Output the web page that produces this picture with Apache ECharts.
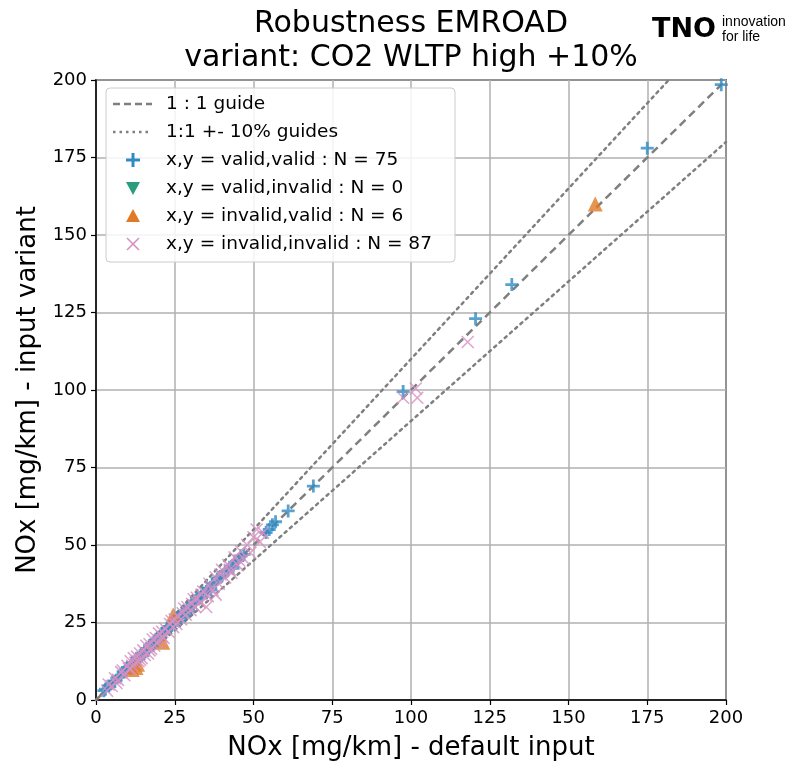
<!DOCTYPE html>
<html><head><meta charset="utf-8">
<script src="https://cdn.jsdelivr.net/npm/echarts@6/dist/echarts.min.js"></script>
<style>html,body{margin:0;padding:0;background:#fff}#c{width:792px;height:772px}</style>
</head><body><div id="c"></div>
<script>
const titleLines = ['Robustness EMROAD', 'variant: CO2 WLTP high +10%'];
const xName = 'NOx [mg/km] - default input';
const yName = 'NOx [mg/km] - input variant';
const axisMin = 0, axisMax = 200, axisStep = 25;
const guideLine = [[0,0],[200,200]];
const guideUpper = [[0,0],[181.82,200]];
const guideLower = [[0,0],[200,180]];
const legendLabels = ['1 : 1 guide','1:1 +- 10% guides','x,y = valid,valid : N = 75','x,y = valid,invalid : N = 0','x,y = invalid,valid : N = 6','x,y = invalid,invalid : N = 87'];
const validValid = [[2.5,3],[3,3.5],[4,4.5],[5,5.5],[6,6],[7,7.5],[8,8],[9,9],[9.5,10],[10,10.5],[11,11],[11.5,12],[12,12],[13,13.5],[14,14],[14.5,15],[15,15],[16,16.5],[16.5,16],[17,17.5],[18,18],[18.5,19],[19,19.5],[20,20],[21,21.5],[22,22],[22.5,23],[23,23.5],[24,24],[25,25],[25.5,26],[26,26.5],[27,27],[28,28.5],[28.5,28],[29,29.5],[30,30],[31,31],[31.5,32],[32,32.5],[33,33],[34,34.5],[35,35],[35.5,36],[36,36],[37,37.5],[38,38],[38.5,39],[39,39.5],[40,40],[41,41.5],[42,42],[43,43],[44,44.5],[45,45],[46,46.5],[47,47],[54,54],[55,55],[56,56.5],[57,57.5],[61,61],[69,69],[97.5,99.5],[120.5,123],[132,134],[175,178],[198.5,198.5],[26.5,25.5],[33.5,33],[36.5,35.5],[43.5,42.5],[29.5,28.5],[19.5,19],[13.5,13]];
const validInvalid = [];
const invalidValid = [[158.5,160],[11.5,9.8],[12.7,10.5],[21.2,18.6],[24.5,27.4],[13.2,11.5]];
const invalidInvalid = [[4,5],[5,4.5],[6,7],[7,6.5],[8,9],[9,8],[10,11],[10.5,10],[11,12.5],[11.5,11],[12,13.5],[12.5,12],[13,14],[13.5,12.5],[14,15],[14.5,13.5],[15,16],[15.5,14.5],[16,17.5],[16.5,15],[17,18],[17.5,16.5],[18,19.5],[18.5,17.5],[19,20],[19.5,18.5],[20,21.5],[20.5,19.5],[21,22],[21.5,20],[22,23],[23,22],[24,25.5],[24.5,23.5],[25,26],[25.5,24.5],[26,27],[27,26],[28,29.5],[28.5,27.5],[29,30],[30,29],[31,32.5],[31.5,30],[32,33],[33,31.5],[34,35],[35,30],[35.5,33.5],[36,37.5],[37,35.5],[38,39.5],[39,37.5],[40,42],[41,39.5],[42,43.5],[43,41],[44,46],[45,43.5],[46,48],[47,45.5],[48,50],[49,47.5],[50,52.5],[51,55],[52,51],[53,54],[97.5,97.5],[101.5,100.5],[102,97.5],[118,115.5],[3.5,3],[6.5,5.5],[8.5,9.5],[11,10],[14,13],[17,16],[21,20.5],[23.5,24.5],[27.5,28],[30.5,31],[33.5,34],[36.5,36],[39.5,40.5],[42.5,42],[45.5,45],[38,34]];

const C_BLUE = '#2f8bc4', C_GREEN = '#2a9d7c', C_ORANGE = '#e07a25', C_PINK = '#d690c2', C_GUIDE = '#7f7f7f';
const FONT = 'DejaVu Sans';
const chart = echarts.init(document.getElementById('c'), null, {renderer:'canvas'});

const lx = 106, ly = 88, rowY = [104, 132, 160, 188, 216, 244];
const legendGraphics = [
  {type:'rect', shape:{x:lx, y:ly, width:349, height:174, r:4}, style:{fill:'rgba(255,255,255,0.85)', stroke:'#cccccc', lineWidth:1}, z:50},
  {type:'line', shape:{x1:113, y1:rowY[0], x2:152, y2:rowY[0]}, style:{stroke:C_GUIDE, lineWidth:2.5, lineDash:[7,4]}, z:51},
  {type:'line', shape:{x1:113, y1:rowY[1], x2:152, y2:rowY[1]}, style:{stroke:C_GUIDE, lineWidth:2.5, lineDash:[2.5,4]}, z:51},
  {type:'line', shape:{x1:126, y1:rowY[2], x2:140, y2:rowY[2]}, style:{stroke:C_BLUE, lineWidth:3}, z:51},
  {type:'line', shape:{x1:133, y1:rowY[2]-7, x2:133, y2:rowY[2]+7}, style:{stroke:C_BLUE, lineWidth:3}, z:51},
  {type:'polygon', shape:{points:[[126,rowY[3]-6],[140,rowY[3]-6],[133,rowY[3]+7]]}, style:{fill:C_GREEN}, z:51},
  {type:'polygon', shape:{points:[[126,rowY[4]+6],[140,rowY[4]+6],[133,rowY[4]-7]]}, style:{fill:C_ORANGE}, z:51},
  {type:'line', shape:{x1:127, y1:rowY[5]-6, x2:139, y2:rowY[5]+6}, style:{stroke:C_PINK, lineWidth:1.6}, z:51},
  {type:'line', shape:{x1:127, y1:rowY[5]+6, x2:139, y2:rowY[5]-6}, style:{stroke:C_PINK, lineWidth:1.6}, z:51}
];
legendLabels.forEach((t,i)=>{
  legendGraphics.push({type:'text', x:166, y:rowY[i], style:{text:t, fill:'#000', font:'18.5px "'+FONT+'"', verticalAlign:'middle', textAlign:'left'}, z:52});
});

const plusPath = 'path://M0,5L10,5M5,0L5,10';
const xPath = 'path://M0,0L10,10M0,10L10,0';

const option = {
  animation:false,
  backgroundColor:'#fff',
  textStyle:{fontFamily:FONT},
  grid:{left:96, right:66, top:80, bottom:72, show:true, borderColor:'#000', borderWidth:1.5, backgroundColor:'transparent'},
  xAxis:{type:'value', min:axisMin, max:axisMax, interval:axisStep,
    name:xName, nameLocation:'middle', nameGap:35, nameTextStyle:{fontSize:26, color:'#000', fontFamily:FONT},
    axisLine:{show:true, lineStyle:{color:'#000', width:1.5}}, axisTick:{show:true, length:5, lineStyle:{color:'#000', width:1.2}},
    axisLabel:{fontSize:18, color:'#000', margin:9, fontFamily:FONT},
    splitLine:{show:true, lineStyle:{color:'#b0b0b0', width:1.5}}},
  yAxis:{type:'value', min:axisMin, max:axisMax, interval:axisStep,
    name:yName, nameLocation:'middle', nameGap:50, nameTextStyle:{fontSize:26, color:'#000', fontFamily:FONT},
    axisLine:{show:true, lineStyle:{color:'#000', width:1.5}}, axisTick:{show:true, length:5, lineStyle:{color:'#000', width:1.2}},
    axisLabel:{fontSize:18, color:'#000', margin:9, fontFamily:FONT},
    splitLine:{show:true, lineStyle:{color:'#b0b0b0', width:1.5}}},
  graphic: [
    {type:'text', x:411, y:9, style:{text:titleLines[0], fill:'#000', font:'30px "'+FONT+'"', textAlign:'center'}},
    {type:'text', x:411, y:43, style:{text:titleLines[1], fill:'#000', font:'30px "'+FONT+'"', textAlign:'center'}},
    {type:'text', x:652, y:16, style:{text:'TNO', fill:'#000', font:'900 27px "DejaVu Sans"', textAlign:'left'}},
    {type:'text', x:722, y:15, style:{text:'innovation', fill:'#000', font:'14px "Liberation Sans"', textAlign:'left'}},
    {type:'text', x:722, y:30, style:{text:'for life', fill:'#000', font:'14px "Liberation Sans"', textAlign:'left'}}
  ].concat(legendGraphics),
  series:[
    {name:'guide', type:'line', data:guideLine, showSymbol:false, lineStyle:{color:C_GUIDE, width:2.5, type:[8,5]}, z:3, silent:true},
    {name:'upper', type:'line', data:guideUpper, showSymbol:false, lineStyle:{color:C_GUIDE, width:2.5, type:[2.5,4.5], cap:'round'}, z:3, silent:true},
    {name:'lower', type:'line', data:guideLower, showSymbol:false, lineStyle:{color:C_GUIDE, width:2.5, type:[2.5,4.5], cap:'round'}, z:3, silent:true},
    {name:'vv', type:'scatter', data:validValid, symbol:plusPath, symbolSize:13, itemStyle:{color:'transparent', borderColor:C_BLUE, borderWidth:2.8}, z:4},
    {name:'vi', type:'scatter', data:validInvalid, symbol:'triangle', symbolRotate:180, symbolSize:14, itemStyle:{color:C_GREEN}, z:5},
    {name:'iv', type:'scatter', data:invalidValid, symbol:'triangle', symbolSize:15, itemStyle:{color:C_ORANGE}, z:5},
    {name:'ii', type:'scatter', data:invalidInvalid, symbol:xPath, symbolSize:12, itemStyle:{color:'transparent', borderColor:C_PINK, borderWidth:1.6}, z:6}
  ]
};
chart.setOption(option);
</script></body></html>
